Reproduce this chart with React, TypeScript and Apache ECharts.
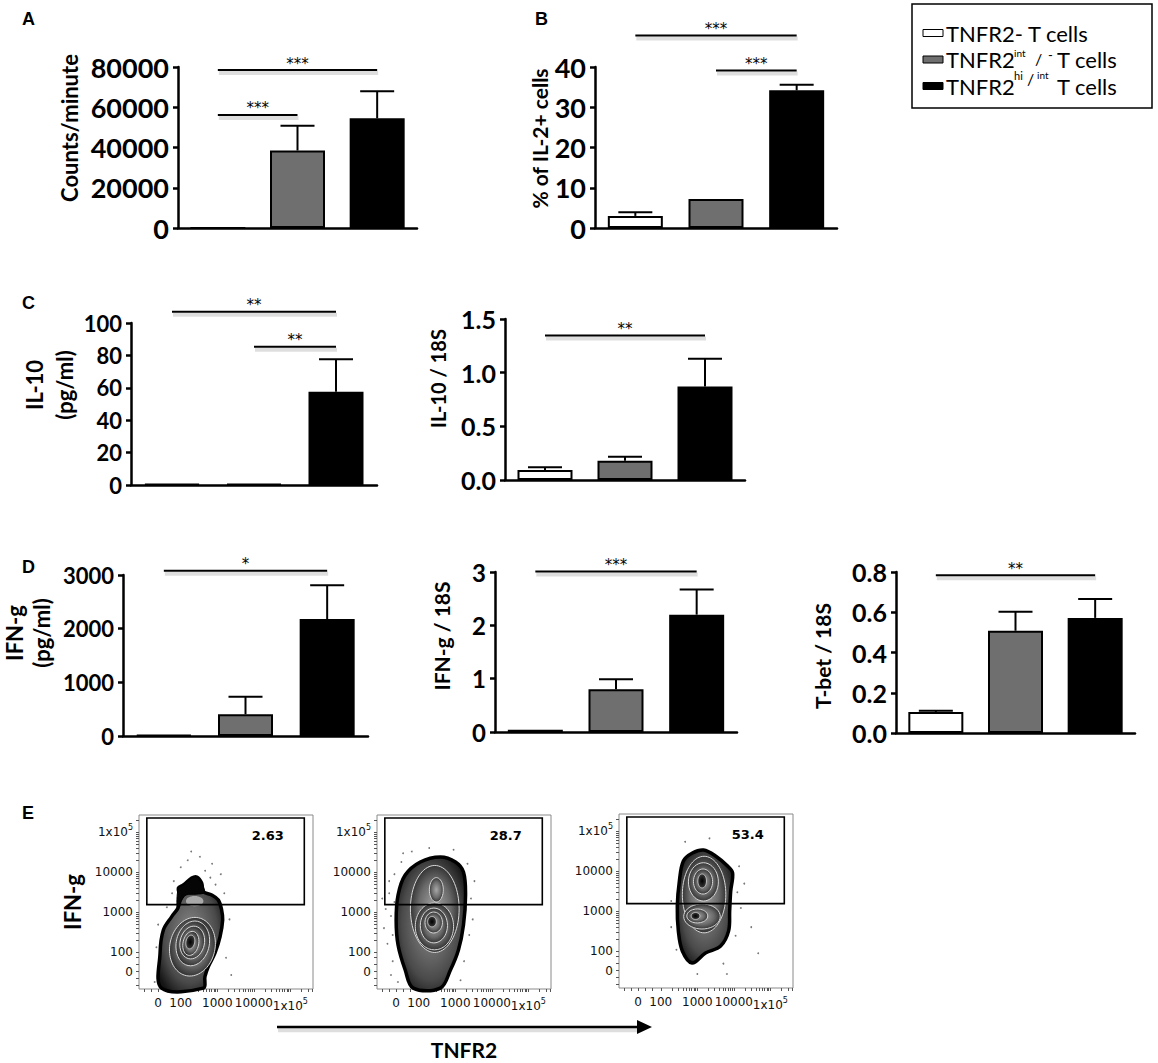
import React, { useEffect, useRef } from "react";
import * as echarts from "echarts";

// ---------------- data ----------------
const GROUPS = ["TNFR2- T cells", "TNFR2int/- T cells", "TNFR2hi/int T cells"];
const BAR_FILLS = ["#ffffff", "#6f6f6f", "#000000"];

const A_MEAN = [0, 38500, 54500];
const A_ERR = [0, 50800, 68000];
const A_SIG = [[0, 2, 78500, "***"], [0, 1, 56150, "***"]];

const B_MEAN = [3.0, 7.2, 34.2];
const B_ERR = [3.9, 7.2, 35.6];
const B_SIG = [[0, 2, 47.8, "***"], [1, 2, 39.1, "***"]];

const C1_MEAN = [0.5, 0.6, 57.5];
const C1_ERR = [0.5, 0.6, 77.7];
const C1_SIG = [[0, 2, 107, "**"], [1, 2, 85.3, "**"]];

const C2_MEAN = [0.093, 0.18, 0.87];
const C2_ERR = [0.118, 0.217, 1.13];
const C2_SIG = [[0, 2, 1.347, "**"]];

const D1_MEAN = [15, 404, 2180];
const D1_ERR = [15, 732, 2808];
const D1_SIG = [[0, 2, 3080, "*"]];

const D2_MEAN = [0.04, 0.8, 2.2];
const D2_ERR = [0.04, 0.99, 2.67];
const D2_SIG = [[0, 2, 3.01, "***"]];

const D3_MEAN = [0.104, 0.508, 0.572];
const D3_ERR = [0.11, 0.602, 0.666];
const D3_SIG = [[0, 2, 0.784, "**"]];

// flow plots (display units 0..100 on both axes)
const FLOW_X_TICK_POS = [11, 24, 45, 66, 87];
const FLOW_Y_TICK_POS = [10, 21, 44, 67, 90];
const FLOW_TICK_LABELS = ["0", "100", "1000", "10000", "1x10^5"];
const FLOW_GATE = [4.5, 48.5, 95, 98.3];
const FLOW_PCT = ["2.63", "28.7", "53.4"];
const FLOW_PCT_POS = [74, 88.5];

const FLOW1_OUTLINE = [[13, 0.5], [12.1, 20.7], [14, 33.9], [18.8, 41.6], [22.4, 46.6], [23.6, 52.3], [22.6, 58], [25.5, 59.8], [30.3, 63.8], [33.2, 64.4], [36, 60.9], [37, 55.9], [41.8, 54], [45.6, 51.1], [47.5, 45.4], [48.1, 39.7], [46.6, 30.1], [43.7, 20.7], [39.8, 12.8], [37.9, 7.1], [37, 0.5]];
const FLOW1_CAP = [[22.6, 58], [25.5, 59.8], [30.3, 63.8], [33.2, 64.4], [36, 60.9], [37.5, 55.5], [33, 54.5], [27, 54], [24, 50], [22, 46]];
const FLOW1_CONTOURS = [
  [32, 50.5, 5, 3, 0, 2],
  [30.7, 24.3, 13, 17, 12, 0],
  [30.9, 26.2, 9.5, 13, 12, 0],
  [30.6, 26.7, 7, 9.5, 12, 0],
  [29.8, 26.2, 4.5, 7, 12, 0],
  [29.5, 27, 2.5, 4, 12, 1],
];
const FLOW1_DOTS = [[20, 62], [24, 70], [28, 74], [35, 76], [38, 68], [41, 64], [44, 60], [49, 55], [19, 55], [16, 47], [11, 37], [10, 24], [11, 12], [47, 66], [52, 40], [50, 18], [30, 79], [42, 72], [53, 8], [9, 4]];

const FLOW2_OUTLINE = [[20.8, 0.5], [16.2, 10.9], [12.1, 25.3], [11, 39.7], [12.1, 54], [16.2, 65.5], [24.9, 73], [36.4, 75.9], [45.1, 73], [49.7, 67.2], [50.9, 54], [49.7, 36.8], [46.8, 22.4], [42.2, 10.9], [36.4, 0.5]];
const FLOW2_CONTOURS = [
  [33.2, 46, 14, 25, 0, 0],
  [33, 36, 11, 13.5, 0, 0],
  [34.1, 57, 4, 7, 0, 0],
  [32.7, 36.5, 7.8, 10, 0, 0],
  [32.6, 38.2, 5, 6, 0, 0],
  [31.6, 38.7, 2.5, 3, 0, 1],
];
const FLOW2_DOTS = [[8, 42], [9, 31], [7, 55], [10, 66], [14, 73], [20, 79], [30, 81], [44, 80], [52, 72], [54, 52], [53, 31], [50, 16], [9, 16], [5, 46], [6, 26], [12, 4], [4, 35], [7, 62], [15, 78], [56, 62], [48, 5], [3, 52], [8, 8], [10, 50], [55, 40]];

const FLOW3_OUTLINE = [[42, 14.4], [36.4, 21.3], [34.1, 32.8], [33.5, 47.1], [34.7, 61.5], [37, 73], [42.2, 77.6], [48.6, 79.3], [55.5, 75.9], [62.4, 70.1], [65.3, 66.1], [64.2, 55.7], [63.6, 44.3], [63, 32.8], [58.4, 24.1], [49.7, 20.1]];
const FLOW3_CONTOURS = [
  [48.9, 53.7, 12.5, 22, 0, 0],
  [48.5, 61, 8.6, 11, 0, 0],
  [47.7, 41.1, 10.5, 7.2, 0, 0],
  [48.3, 61.2, 5.5, 7.2, 0, 0],
  [45, 41.4, 6, 4, 0, 0],
  [47.8, 61.5, 2.5, 4, 0, 1],
  [44, 41.4, 2.5, 2, 0, 1],
];
const FLOW3_DOTS = [[30, 50], [68, 55], [70, 46], [67, 30], [60, 14], [45, 8], [33, 22], [52, 86], [69, 70], [76, 35], [38, 84], [72, 60], [62, 8], [30, 35], [80, 20]];

// ---------------- layout ----------------
const FONT = "Lato, 'Open Sans', 'DejaVu Sans', sans-serif";
const FLOW_FONT = "'DejaVu Sans', sans-serif";

const BAR_PANELS = [
  { mean: A_MEAN, err: A_ERR, sig: A_SIG, max: 80000, interval: 20000, digits: 0, name: "Counts/minute", left: 178, top: 67, width: 239, height: 161, labelSize: 27, nameSize: 22, nameLH: 24, nameGap: 97, shift: 39 },
  { mean: B_MEAN, err: B_ERR, sig: B_SIG, max: 40, interval: 10, digits: 0, name: "% of IL-2+ cells", left: 595, top: 67, width: 242, height: 161, labelSize: 27, nameSize: 21, nameLH: 23, nameGap: 43, shift: 18 },
  { mean: C1_MEAN, err: C1_ERR, sig: C1_SIG, max: 100, interval: 20, digits: 0, name: "IL-10\n(pg/ml)", left: 131, top: 323, width: 246, height: 162, labelSize: 22, nameSize: 22, nameLH: 30, nameGap: 44, shift: 38 },
  { mean: C2_MEAN, err: C2_ERR, sig: C2_SIG, max: 1.5, interval: 0.5, digits: 1, name: "IL-10 / 18S", left: 505, top: 319, width: 240, height: 161, labelSize: 25, nameSize: 20, nameLH: 22, nameGap: 56, shift: 42 },
  { mean: D1_MEAN, err: D1_ERR, sig: D1_SIG, max: 3000, interval: 1000, digits: 0, name: "IFN-g\n(pg/ml)", left: 123, top: 575, width: 245, height: 161, labelSize: 22, nameSize: 22, nameLH: 27, nameGap: 68, shift: 45 },
  { mean: D2_MEAN, err: D2_ERR, sig: D2_SIG, max: 3, interval: 1, digits: 0, name: "IFN-g / 18S", left: 495, top: 572, width: 242, height: 160, labelSize: 24, nameSize: 21, nameLH: 23, nameGap: 42, shift: 32 },
  { mean: D3_MEAN, err: D3_ERR, sig: D3_SIG, max: 0.8, interval: 0.2, digits: 1, name: "T-bet / 18S", left: 896, top: 572, width: 239, height: 161, labelSize: 25, nameSize: 21, nameLH: 23, nameGap: 62, shift: -7 },
];

const FLOW_PLOTS = [
  { outline: FLOW1_OUTLINE, cap: FLOW1_CAP, contours: FLOW1_CONTOURS, dots: FLOW1_DOTS, left: 139, top: 815, width: 174, height: 174 },
  { outline: FLOW2_OUTLINE, cap: null, contours: FLOW2_CONTOURS, dots: FLOW2_DOTS, left: 377, top: 815, width: 174, height: 174 },
  { outline: FLOW3_OUTLINE, cap: null, contours: FLOW3_CONTOURS, dots: FLOW3_DOTS, left: 619, top: 814, width: 174, height: 174 },
];

function minorTicks(decades: number[], width: number, low: number[]): number[] {
  const out: number[] = [...low];
  decades.forEach((d) => {
    out.push(d);
    for (let k = 2; k <= 9; k++) {
      const v = d + width * Math.log10(k);
      if (v < 100) out.push(v);
    }
  });
  return out;
}
const FLOW_X_TICKS = minorTicks([24, 45, 66, 87], 21, [3, 7, 11, 15, 19]);
const FLOW_Y_TICKS = minorTicks([21, 44, 67, 90], 23, [2, 6, 10, 14, 18]);

function tickLabel(positions: number[]) {
  return (v: number) => {
    const i = positions.findIndex((p) => Math.abs(p - v) < 0.01);
    if (i < 0) return "";
    const s = FLOW_TICK_LABELS[i];
    return s.indexOf("^") >= 0 ? s.replace(/\^(\d+)/, "{s|$1}") : s;
  };
}

function ellipsePts(api: any, cx: number, cy: number, rx: number, ry: number, tilt: number) {
  const a = (tilt * Math.PI) / 180;
  const pts: number[][] = [];
  for (let i = 0; i < 40; i++) {
    const t = (i / 40) * Math.PI * 2;
    const ux = rx * Math.cos(t);
    const uy = ry * Math.sin(t);
    pts.push(api.coord([cx + ux * Math.cos(a) + uy * Math.sin(a), cy - ux * Math.sin(a) + uy * Math.cos(a)]));
  }
  return pts;
}

function shadowedLine(x1: number, y1: number, x2: number, y2: number, w: number) {
  return [
    { type: "line", silent: true, shape: { x1: x1 + 1, y1: y1 + 3, x2: x2 + 1, y2: y2 + 3 }, style: { stroke: "rgba(0,0,0,0.13)", lineWidth: w + 2 } },
    { type: "line", silent: true, shape: { x1, y1, x2, y2 }, style: { stroke: "#000", lineWidth: w } },
  ];
}

function buildOption() {
  const grid: any[] = [];
  const xAxis: any[] = [];
  const yAxis: any[] = [];
  const series: any[] = [];

  BAR_PANELS.forEach((p, i) => {
    grid.push({ left: p.left, top: p.top, width: p.width, height: p.height });
    xAxis.push({
      type: "category", gridIndex: i, data: GROUPS,
      axisLine: { show: true, lineStyle: { color: "#000", width: 2.5 } },
      axisTick: { show: false }, axisLabel: { show: false }, splitLine: { show: false },
    });
    yAxis.push({
      type: "value", gridIndex: i, min: 0, max: p.max, interval: p.interval,
      axisLine: { show: true, lineStyle: { color: "#000", width: 2.5 } },
      axisTick: { show: true, length: 5, lineStyle: { color: "#000", width: 2.5 } },
      splitLine: { show: false },
      axisLabel: { color: "#000", fontFamily: FONT, fontWeight: "bold", fontSize: p.labelSize, margin: 9, formatter: (v: number) => v.toFixed(p.digits) },
      name: p.name, nameLocation: "middle", nameRotate: 90, nameGap: p.nameGap,
      nameTextStyle: {
        color: "#000", fontFamily: FONT, fontWeight: "bold", fontSize: p.nameSize, lineHeight: p.nameLH,
        padding: p.shift >= 0 ? [0, 0, 0, p.shift] : [0, -p.shift, 0, 0],
      },
    });
    series.push({
      type: "bar", xAxisIndex: i, yAxisIndex: i, barWidth: 55, silent: true,
      itemStyle: { borderColor: "#000", borderWidth: 2 },
      data: p.mean.map((v, k) => ({ value: v, itemStyle: { color: BAR_FILLS[k] } })),
    });
    series.push({
      type: "custom", xAxisIndex: i, yAxisIndex: i, silent: true, clip: false, z: 1,
      data: p.mean.map((v, k) => [k, v, p.err[k]]),
      renderItem: (params: any, api: any) => {
        const c = api.value(0), v = api.value(1), e = api.value(2);
        if (!(e > v)) return { type: "group", children: [] };
        const p0 = api.coord([c, v]);
        const p1 = api.coord([c, e]);
        return {
          type: "group",
          children: [
            { type: "line", shape: { x1: p0[0], y1: p0[1], x2: p1[0], y2: p1[1] }, style: { stroke: "#000", lineWidth: 2 } },
            { type: "line", shape: { x1: p1[0] - 17, y1: p1[1], x2: p1[0] + 17, y2: p1[1] }, style: { stroke: "#000", lineWidth: 2 } },
          ],
        };
      },
    });
    series.push({
      type: "custom", xAxisIndex: i, yAxisIndex: i, silent: true, clip: false, z: 4,
      data: p.sig.map((s) => [s[0], s[2], s[1]]),
      renderItem: (params: any, api: any) => {
        const a = api.coord([api.value(0), api.value(1)]);
        const b = api.coord([api.value(2), api.value(1)]);
        const label = p.sig[params.dataIndex][3] as string;
        return {
          type: "group",
          children: [
            ...shadowedLine(a[0], a[1], b[0], b[1], 2),
            { type: "text", x: (a[0] + b[0]) / 2, y: a[1] + 1, style: { text: label, fill: "#000", fontFamily: FLOW_FONT, fontSize: 15, align: "center", verticalAlign: "bottom" } },
          ],
        };
      },
    });
  });

  const outerFill = () => new echarts.graphic.RadialGradient(0.5, 0.5, 0.6, [
    { offset: 0, color: "#8c8c8c" }, { offset: 0.7, color: "#4a4a4a" }, { offset: 1, color: "#151515" },
  ]);
  const bandFill = () => new echarts.graphic.RadialGradient(0.5, 0.5, 0.55, [
    { offset: 0, color: "#a8a8a8" }, { offset: 0.6, color: "#6a6a6a" }, { offset: 1, color: "#262626" },
  ]);
  const coreFill = () => new echarts.graphic.RadialGradient(0.5, 0.5, 0.5, [
    { offset: 0, color: "#000" }, { offset: 1, color: "#3a3a3a" },
  ]);

  FLOW_PLOTS.forEach((f, j) => {
    const gi = BAR_PANELS.length + j;
    grid.push({ left: f.left, top: f.top, width: f.width, height: f.height, show: true, borderColor: "#8a8a8a", borderWidth: 1, backgroundColor: "transparent" });
    xAxis.push({
      type: "value", gridIndex: gi, min: 0, max: 100,
      axisLine: { show: false, onZero: false }, splitLine: { show: false },
      axisTick: { show: true, customValues: FLOW_X_TICKS, length: 3, lineStyle: { color: "#555", width: 1 } },
      axisLabel: {
        customValues: FLOW_X_TICK_POS, formatter: tickLabel(FLOW_X_TICK_POS), color: "#111", fontFamily: FLOW_FONT, fontSize: 12, margin: 8,
        hideOverlap: false, showMinLabel: true, showMaxLabel: true, interval: 0,
        rich: { s: { fontFamily: FLOW_FONT, fontSize: 8, color: "#111", padding: [0, 0, 9, 0] } },
      },
      name: j === 1 ? "TNFR2" : "", nameLocation: "middle", nameGap: 50,
      nameTextStyle: { color: "#000", fontFamily: FONT, fontWeight: "bold", fontSize: 21 },
    });
    yAxis.push({
      type: "value", gridIndex: gi, min: 0, max: 100,
      axisLine: { show: false, onZero: false }, splitLine: { show: false },
      axisTick: { show: true, customValues: FLOW_Y_TICKS, length: 3, lineStyle: { color: "#555", width: 1 } },
      axisLabel: {
        customValues: FLOW_Y_TICK_POS, formatter: tickLabel(FLOW_Y_TICK_POS), color: "#111", fontFamily: FLOW_FONT, fontSize: 12, margin: 6,
        hideOverlap: false, showMinLabel: true, showMaxLabel: true, interval: 0,
        rich: { s: { fontFamily: FLOW_FONT, fontSize: 8, color: "#111", padding: [0, 0, 9, 0] } },
      },
      name: j === 0 ? "IFN-g" : "", nameLocation: "middle", nameRotate: 90, nameGap: 56,
      nameTextStyle: { color: "#000", fontFamily: FONT, fontWeight: "bold", fontSize: 22 },
    });
    series.push({
      type: "custom", xAxisIndex: gi, yAxisIndex: gi, silent: true, z: 2,
      data: [f.outline[0]],
      renderItem: (params: any, api: any) => {
        const children: any[] = [
          { type: "polygon", shape: { points: f.outline.map((pt) => api.coord(pt)), smooth: 0.35 }, style: { fill: outerFill(), stroke: "#000", lineWidth: 3.5 } },
        ];
        if (f.cap) {
          children.push({ type: "polygon", shape: { points: f.cap.map((pt) => api.coord(pt)), smooth: 0.35 }, style: { fill: "#050505", stroke: "#000", lineWidth: 1 } });
        }
        return { type: "group", children };
      },
    });
    series.push({
      type: "custom", xAxisIndex: gi, yAxisIndex: gi, silent: true, z: 3,
      data: f.contours,
      renderItem: (params: any, api: any) => {
        const kind = api.value(5);
        const pts = ellipsePts(api, api.value(0), api.value(1), api.value(2), api.value(3), api.value(4));
        if (kind === 2) return { type: "polygon", shape: { points: pts, smooth: 0.3 }, style: { fill: "#a9a9a9" } };
        if (kind === 1) return { type: "polygon", shape: { points: pts, smooth: 0.3 }, style: { fill: coreFill(), stroke: "#cfcfcf", lineWidth: 0.8 } };
        return { type: "polygon", shape: { points: pts, smooth: 0.3 }, style: { fill: bandFill(), stroke: "#d8d8d8", lineWidth: 1 } };
      },
    });
    series.push({
      type: "scatter", xAxisIndex: gi, yAxisIndex: gi, silent: true, z: 1,
      symbolSize: 1.8, itemStyle: { color: "#555" }, data: f.dots,
    });
    series.push({
      type: "custom", xAxisIndex: gi, yAxisIndex: gi, silent: true, z: 5,
      data: [FLOW_GATE],
      renderItem: (params: any, api: any) => {
        const tl = api.coord([api.value(0), api.value(3)]);
        const br = api.coord([api.value(2), api.value(1)]);
        const lp = api.coord(FLOW_PCT_POS);
        return {
          type: "group",
          children: [
            { type: "rect", shape: { x: tl[0], y: tl[1], width: br[0] - tl[0], height: br[1] - tl[1] }, style: { fill: "none", stroke: "#000", lineWidth: 1.6 } },
            { type: "text", x: lp[0], y: lp[1], style: { text: FLOW_PCT[j], fill: "#000", fontFamily: FLOW_FONT, fontWeight: "bold", fontSize: 13, align: "center", verticalAlign: "middle" } },
          ],
        };
      },
    });
  });

  const letter = (t: string, x: number, y: number) => ({
    type: "text", left: x, top: y, silent: true,
    style: { text: t, fill: "#000", fontFamily: "'Liberation Sans', Arial, sans-serif", fontWeight: "bold", fontSize: 18 },
  });
  const ltxt = (t: string, x: number, y: number, size: number) => ({
    type: "text", x, y, silent: true,
    style: { text: t, fill: "#000", fontFamily: FONT, fontSize: size, lineHeight: Math.round(size * 0.75), verticalAlign: "middle", align: "left" },
  });

  const graphic: any[] = [
    letter("A", 22, 10), letter("B", 535, 10), letter("C", 22, 294), letter("D", 22, 558), letter("E", 22, 804),
    // legend
    { type: "rect", silent: true, shape: { x: 912, y: 4, width: 240, height: 104 }, style: { fill: "#fff", stroke: "#000", lineWidth: 1.5 } },
    { type: "rect", silent: true, shape: { x: 923, y: 29.5, width: 20, height: 7 }, style: { fill: BAR_FILLS[0], stroke: "#000", lineWidth: 1 } },
    { type: "rect", silent: true, shape: { x: 923, y: 56, width: 20, height: 7 }, style: { fill: BAR_FILLS[1], stroke: "#000", lineWidth: 1 } },
    { type: "rect", silent: true, shape: { x: 923, y: 82.5, width: 20, height: 7 }, style: { fill: BAR_FILLS[2], stroke: "#000", lineWidth: 1 } },
    ltxt("TNFR2- T cells", 946, 33, 22),
    ltxt("TNFR2", 946, 59.5, 22),
    ltxt("int", 1014, 52.5, 10),
    ltxt("/", 1035, 58, 16),
    ltxt("-", 1048, 55, 13),
    ltxt("T cells", 1057, 59.5, 22),
    ltxt("TNFR2", 946, 86, 22),
    ltxt("hi", 1014, 75, 11),
    ltxt("/", 1027, 78, 16),
    ltxt("int", 1037, 75, 10),
    ltxt("T cells", 1057, 86, 22),
    // arrow
    ...shadowedLine(277, 1027, 640, 1027, 2.5),
    { type: "polygon", silent: true, shape: { points: [[637, 1020], [652, 1027], [637, 1034]] }, style: { fill: "#000" } },
  ];

  return { animation: false, backgroundColor: "#fff", grid, xAxis, yAxis, series, graphic };
}

export default function App() {
  const ref = useRef<HTMLDivElement>(null);
  useEffect(() => {
    if (!ref.current) return;
    const chart = echarts.init(ref.current, null, { renderer: "svg" });
    chart.setOption(buildOption() as any);
    return () => chart.dispose();
  }, []);
  return <div ref={ref} style={{ position: "absolute", left: 0, top: 0, width: 1158, height: 1063 }} />;
}
